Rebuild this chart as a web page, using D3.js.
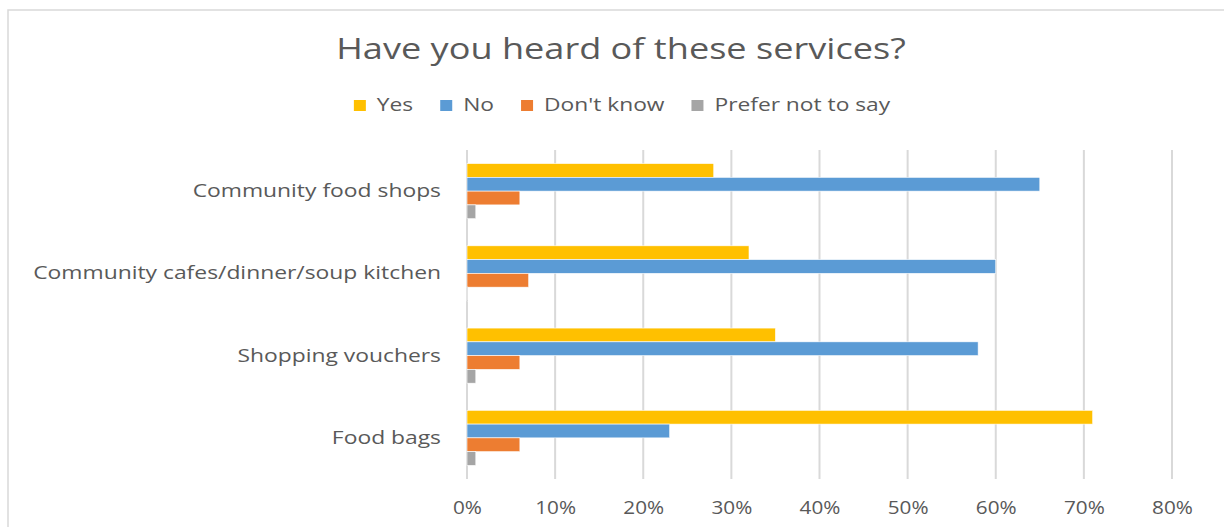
<!DOCTYPE html>
<html>
<head>
<meta charset="utf-8">
<script src="https://cdn.jsdelivr.net/npm/d3@7"></script>
<style>
  html, body { margin: 0; padding: 0; background: #fff; }
  svg { display: block; }
  text { font-family: "Open Sans", "Noto Sans", sans-serif; fill: #595959; }
</style>
</head>
<body>
<svg id="chart" width="1224" height="527"></svg>
<script>
// Survey answers, percent of respondents
const categories = ["Community food shops", "Community cafes/dinner/soup kitchen", "Shopping vouchers", "Food bags"];
const seriesNames = ["Yes", "No", "Don't know", "Prefer not to say"];
const yesValues = [28, 32, 35, 71];
const noValues = [65, 60, 58, 23];
const dontKnowValues = [6, 7, 6, 6];
const preferNotValues = [1, 0, 1, 1];
const tickValues = [0, 10, 20, 30, 40, 50, 60, 70, 80];
const titleText = "Have you heard of these services?";

const seriesValues = [yesValues, noValues, dontKnowValues, preferNotValues];
const colors = ["#FFC000", "#5B9BD5", "#ED7D31", "#A5A5A5"];

const svg = d3.select("#chart");

// horizontal widening of the lettering
function widen(factor) {
  return sel => sel.each(function () {
    const len = this.getComputedTextLength();
    d3.select(this).attr("textLength", len * factor).attr("lengthAdjust", "spacingAndGlyphs");
  });
}

// chart frame
svg.append("rect")
  .attr("x", 8).attr("y", 10).attr("width", 1300).attr("height", 600)
  .attr("fill", "none").attr("stroke", "#d9d9d9").attr("stroke-width", 1.5);

const plot = { left: 467, right: 1172, top: 150, bottom: 479 };

const x = d3.scaleLinear().domain([0, 80]).range([plot.left, plot.right]);
const y = d3.scaleBand().domain(categories).range([plot.top, plot.bottom])
  .paddingInner(0.33).paddingOuter(0.165);
const ySub = d3.scaleBand().domain(seriesNames).range([0, y.bandwidth()]);

// gridlines
svg.append("g").selectAll("line").data(tickValues).join("line")
  .attr("x1", d => x(d)).attr("x2", d => x(d))
  .attr("y1", plot.top).attr("y2", plot.bottom)
  .attr("stroke", "#d9d9d9").attr("stroke-width", 2);

// x axis tick labels
const xAxis = svg.append("g")
  .attr("transform", `translate(0,${plot.bottom})`)
  .call(d3.axisBottom(x).tickValues(tickValues).tickFormat(d => d + "%").tickSize(0).tickPadding(22));
xAxis.select(".domain").remove();
xAxis.selectAll("text")
  .style("font-family", '"Open Sans", "Noto Sans", sans-serif')
  .style("font-size", "18px").style("fill", "#595959")
  .call(widen(1.15));

// category labels
const yAxis = svg.append("g")
  .attr("transform", `translate(${plot.left},0)`)
  .call(d3.axisLeft(y).tickSize(0).tickPadding(26));
yAxis.select(".domain").remove();
yAxis.selectAll("text")
  .style("font-family", '"Open Sans", "Noto Sans", sans-serif')
  .style("font-size", "18.5px").style("fill", "#595959")
  .call(widen(1.235));

// bars
const groups = svg.append("g").selectAll("g").data(categories).join("g")
  .attr("transform", d => `translate(0,${y(d)})`);
groups.selectAll("rect")
  .data((c, i) => seriesNames.map((s, j) => ({ series: s, value: seriesValues[j][i], color: colors[j] })))
  .join("rect")
  .attr("x", x(0))
  .attr("y", d => ySub(d.series))
  .attr("width", d => Math.max(x(d.value) - x(0), 0.8))
  .attr("height", ySub.bandwidth())
  .attr("fill", d => d.color)
  .attr("stroke", "#ffffff").attr("stroke-width", 0.6);

// title
svg.append("text")
  .attr("x", 621).attr("y", 59)
  .attr("text-anchor", "middle")
  .style("font-size", "29px")
  .text(titleText)
  .call(widen(1.245));

// legend
const legend = svg.append("g").attr("transform", "translate(0,111)");
const items = legend.selectAll("g").data(seriesNames).join("g");
items.append("rect")
  .attr("y", -11).attr("width", 12).attr("height", 11)
  .attr("fill", (d, i) => colors[i]);
items.append("text")
  .attr("x", 23).attr("y", 0)
  .style("font-size", "18.5px")
  .text(d => d)
  .call(widen(1.23));
const widths = [];
items.each(function () {
  const t = d3.select(this).select("text").node();
  widths.push(23 + (+t.getAttribute("textLength")));
});
const gap = 27;
const total = d3.sum(widths) + gap * (widths.length - 1);
let cursor = 622 - total / 2;
items.attr("transform", (d, i) => {
  const pos = cursor;
  cursor += widths[i] + gap;
  return `translate(${pos},0)`;
});
</script>
</body>
</html>
